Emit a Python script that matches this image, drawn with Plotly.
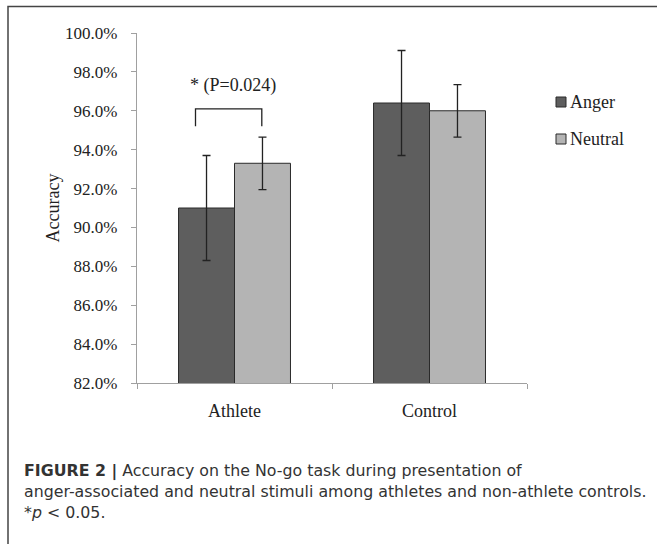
import plotly.graph_objects as go

# Accuracy (%) per group and stimulus type
groups = ["Athlete", "Control"]
anger_acc = [91.0, 96.4]
anger_err = [2.7, 2.7]
neutral_acc = [93.3, 96.0]
neutral_err = [1.35, 1.35]
y_ticks = [82, 84, 86, 88, 90, 92, 94, 96, 98, 100]
y_tick_labels = [f"{v:.1f}%" for v in y_ticks]

SERIF = "Liberation Serif, Times New Roman, serif"
SANS = "DejaVu Sans, Arial, Helvetica, sans-serif"
ANGER_COLOR = "#5e5e5e"
NEUTRAL_COLOR = "#b4b4b4"
TEXT = "#222"

fig = go.Figure()
fig.add_trace(go.Bar(
    name="Anger", x=groups, y=anger_acc,
    marker=dict(color=ANGER_COLOR, line=dict(color="#2a2a2a", width=1)),
    error_y=dict(type="data", array=anger_err, color="#222", thickness=1.3, width=4),
    showlegend=False,
))
fig.add_trace(go.Bar(
    name="Neutral", x=groups, y=neutral_acc,
    marker=dict(color=NEUTRAL_COLOR, line=dict(color="#2a2a2a", width=1)),
    error_y=dict(type="data", array=neutral_err, color="#222", thickness=1.3, width=4),
    showlegend=False,
))

fig.update_layout(
    width=657, height=544,
    margin=dict(l=137, r=130, t=33, b=161),
    paper_bgcolor="white", plot_bgcolor="white",
    barmode="group", bargap=0.426, bargroupgap=0,
    font=dict(family=SERIF, size=17, color=TEXT),
    xaxis=dict(
        showline=True, linecolor="#a0a0a0", linewidth=1.3,
        ticks="outside", tickson="boundaries", ticklen=5, tickcolor="#a0a0a0",
        tickfont=dict(family=SERIF, size=18, color=TEXT),
        ticklabelstandoff=11, showgrid=False, zeroline=False,
    ),
    yaxis=dict(
        range=[82, 100], tickmode="array", tickvals=y_ticks, ticktext=y_tick_labels,
        showline=True, linecolor="#a0a0a0", linewidth=1.3,
        ticks="outside", ticklen=5, tickcolor="#a0a0a0",
        tickfont=dict(family=SERIF, size=17, color=TEXT),
        ticklabelstandoff=10, showgrid=False, zeroline=False,
        title=dict(text="Accuracy", font=dict(family=SERIF, size=18, color=TEXT), standoff=0),
    ),
)

# significance bracket over the Athlete bars
bx0, bx1 = -0.2, 0.14
fig.add_shape(type="path", xref="x", yref="y",
              path=f"M {bx0},95.2 L {bx0},96.1 L {bx1},96.1 L {bx1},95.2",
              line=dict(color="#222", width=1.3))
fig.add_annotation(x=(bx0 + bx1) / 2 + 0.02, y=97.3, xref="x", yref="y",
                   text="* (P=0.024)", showarrow=False, yanchor="middle",
                   font=dict(family=SERIF, size=18, color=TEXT))

# legend: swatch + label for each series
legend_items = [("Anger", ANGER_COLOR, 102), ("Neutral", NEUTRAL_COLOR, 139)]
for label, color, yc in legend_items:
    fig.add_shape(type="rect", xref="paper", yref="paper",
                  x0=(556 - 137) / 390, x1=(566 - 137) / 390,
                  y0=(383 - yc - 5) / 350, y1=(383 - yc + 5) / 350,
                  fillcolor=color, line=dict(color="#2a2a2a", width=1))
    fig.add_annotation(x=(568 - 137) / 390, y=(383 - yc) / 350, xref="paper", yref="paper",
                       text=label, showarrow=False, xanchor="left", yanchor="middle",
                       font=dict(family=SERIF, size=18, color=TEXT))

# outer frame (top and left edges)
fig.add_shape(type="path", xref="paper", yref="paper",
              path=f"M {(8-137)/390},{(383-544)/350} L {(8-137)/390},{(383-6.5)/350} L {(657-137)/390},{(383-6.5)/350}",
              line=dict(color="#444", width=1.5))

# figure caption
caption = [
    "<b>FIGURE 2 |</b> Accuracy on the No-go task during presentation of",
    "anger-associated and neutral stimuli among athletes and non-athlete controls.",
    "*<i>p</i> &lt; 0.05.",
]
for i, line in enumerate(caption):
    yc = 471 + 20.5 * i
    fig.add_annotation(x=(22 - 137) / 390, y=(383 - yc) / 350, xref="paper", yref="paper",
                       text=line, showarrow=False, xanchor="left", yanchor="middle",
                       font=dict(family=SANS, size=15.8, color="#333"))

fig.write_html("out.html")
